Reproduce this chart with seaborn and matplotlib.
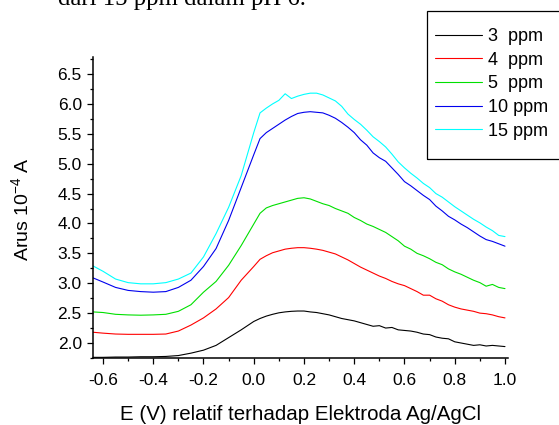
import matplotlib
matplotlib.use("Agg")
import matplotlib.pyplot as plt
from matplotlib.patches import Rectangle
from matplotlib.ticker import MultipleLocator, FormatStrFormatter
import numpy as np
import pandas as pd
import seaborn as sns

# ---------------- data ----------------
potential = [-0.64, -0.6, -0.55, -0.5, -0.45, -0.4, -0.35, -0.3, -0.25, -0.2, -0.15, -0.1, -0.05,
             0.0, 0.025, 0.05, 0.075, 0.1, 0.125, 0.15, 0.175, 0.2, 0.225, 0.25, 0.275, 0.3,
             0.325, 0.35, 0.375, 0.4, 0.425, 0.45, 0.475, 0.5, 0.525, 0.55, 0.575, 0.6, 0.625,
             0.65, 0.675, 0.7, 0.725, 0.75, 0.775, 0.8, 0.825, 0.85, 0.875, 0.9, 0.925, 0.95,
             0.975, 1.0]

arus_3ppm = [1.76, 1.76, 1.765, 1.765, 1.77, 1.77, 1.775, 1.79, 1.83, 1.88, 1.96, 2.09, 2.22,
             2.36, 2.41, 2.45, 2.48, 2.505, 2.52, 2.53, 2.535, 2.535, 2.52, 2.51, 2.49, 2.47,
             2.44, 2.41, 2.39, 2.37, 2.34, 2.31, 2.28, 2.29, 2.25, 2.26, 2.22, 2.21, 2.20,
             2.18, 2.15, 2.14, 2.10, 2.08, 2.07, 2.02, 2.00, 1.98, 1.96, 1.97, 1.95, 1.96,
             1.95, 1.94]

arus_4ppm = [2.18, 2.165, 2.15, 2.145, 2.145, 2.145, 2.15, 2.20, 2.30, 2.42, 2.57, 2.76, 3.05,
             3.28, 3.40, 3.46, 3.51, 3.54, 3.57, 3.585, 3.595, 3.595, 3.585, 3.57, 3.55, 3.52,
             3.49, 3.44, 3.39, 3.33, 3.27, 3.22, 3.17, 3.12, 3.08, 3.03, 2.99, 2.96, 2.91,
             2.86, 2.80, 2.80, 2.74, 2.70, 2.64, 2.60, 2.57, 2.55, 2.53, 2.50, 2.49, 2.47,
             2.44, 2.42]

arus_5ppm = [2.52, 2.51, 2.48, 2.47, 2.465, 2.47, 2.48, 2.53, 2.64, 2.85, 3.03, 3.30, 3.63,
             3.99, 4.17, 4.26, 4.30, 4.33, 4.36, 4.39, 4.42, 4.43, 4.41, 4.37, 4.33, 4.30,
             4.25, 4.21, 4.17, 4.10, 4.05, 3.99, 3.95, 3.90, 3.85, 3.78, 3.71, 3.62, 3.57,
             3.50, 3.46, 3.41, 3.35, 3.31, 3.24, 3.19, 3.15, 3.10, 3.05, 3.01, 2.95, 2.98,
             2.93, 2.91]

arus_10ppm = [3.09, 3.02, 2.93, 2.88, 2.86, 2.85, 2.86, 2.93, 3.05, 3.28, 3.58, 4.05, 4.60,
              5.15, 5.42, 5.52, 5.59, 5.66, 5.73, 5.79, 5.84, 5.86, 5.87, 5.86, 5.85, 5.81,
              5.76, 5.69, 5.61, 5.52, 5.40, 5.31, 5.18, 5.10, 5.04, 4.93, 4.82, 4.70, 4.63,
              4.55, 4.47, 4.40, 4.29, 4.21, 4.12, 4.06, 3.99, 3.93, 3.86, 3.79, 3.73, 3.70,
              3.66, 3.62]

arus_15ppm = [3.29, 3.20, 3.07, 3.01, 2.99, 2.99, 3.01, 3.07, 3.17, 3.44, 3.83, 4.27, 4.80,
              5.52, 5.85, 5.93, 6.00, 6.06, 6.17, 6.09, 6.13, 6.16, 6.18, 6.18, 6.15, 6.10,
              6.05, 5.96, 5.83, 5.74, 5.66, 5.56, 5.45, 5.37, 5.28, 5.16, 5.03, 4.93, 4.84,
              4.76, 4.67, 4.60, 4.50, 4.44, 4.36, 4.28, 4.21, 4.14, 4.07, 4.01, 3.94, 3.88,
              3.80, 3.78]

series_labels = ["3  ppm", "4  ppm", "5  ppm", "10 ppm", "15 ppm"]
series_colors = ["#000000", "#ff0000", "#00e000", "#0000ee", "#00ffff"]

x_ticks = [-0.6, -0.4, -0.2, 0.0, 0.2, 0.4, 0.6, 0.8, 1.0]
y_ticks = [2.0, 2.5, 3.0, 3.5, 4.0, 4.5, 5.0, 5.5, 6.0, 6.5]

# ---------------- build table ----------------
all_series = [arus_3ppm, arus_4ppm, arus_5ppm, arus_10ppm, arus_15ppm]
df = pd.concat(
    [pd.DataFrame({"E": potential, "I": vals, "Konsentrasi": lab})
     for vals, lab in zip(all_series, series_labels)],
    ignore_index=True)

# ---------------- style ----------------
sns.set_style("ticks")
plt.rcParams["font.family"] = ["Liberation Sans", "DejaVu Sans"]
plt.rcParams["mathtext.default"] = "regular"
plt.rcParams["axes.unicode_minus"] = False

W, H = 559, 425
AX_L, AX_R, AX_T, AX_B = 92.95, 507.5, 57.3, 358.0
fig = plt.figure(figsize=(W / 100, H / 100), dpi=100)
ax = fig.add_axes([AX_L / W, 1 - AX_B / H, (AX_R - AX_L) / W, (AX_B - AX_T) / H])

sns.lineplot(data=df, x="E", y="I", hue="Konsentrasi", hue_order=series_labels,
             palette=series_colors, linewidth=0.8, ax=ax, legend=False, sort=False)

ax.set_xlim(-0.64, 1.01)
ax.set_ylim(1.749, 6.78)
ax.set_xticks(x_ticks)
ax.set_yticks(y_ticks)
ax.xaxis.set_minor_locator(MultipleLocator(0.1))
ax.yaxis.set_minor_locator(MultipleLocator(0.25))
ax.xaxis.set_major_formatter(FormatStrFormatter("%.1f"))
ax.yaxis.set_major_formatter(FormatStrFormatter("%.1f"))

for s in ["top", "right"]:
    ax.spines[s].set_visible(False)
for s in ["left", "bottom"]:
    ax.spines[s].set_linewidth(1.1)
    ax.spines[s].set_color("black")

ax.tick_params(axis="both", which="major", direction="out", length=4, width=0.9,
               color="black", labelsize=12.5, labelcolor="black")
ax.tick_params(axis="both", which="minor", direction="out", length=2.5, width=0.9, color="black")
ax.tick_params(axis="x", which="major", pad=7)
ax.tick_params(axis="y", which="major", pad=4)

ax.set_xlabel("E (V) relatif terhadap Elektroda Ag/AgCl", fontsize=14.8, color="black")
ax.set_ylabel("Arus 10$^{-4}$ A", fontsize=14, color="black")
ax.xaxis.set_label_coords(((118 + 483) / 2 - AX_L) / (AX_R - AX_L), (AX_B - 414) / (AX_B - AX_T))
ax.xaxis.label.set_va("center")
ax.yaxis.set_label_coords((21 - AX_L) / (AX_R - AX_L), (AX_B - 209) / (AX_B - AX_T))
ax.yaxis.label.set_va("center")
ax.patch.set_alpha(0)

# legend frame (extends past right figure edge like the reference)
fig.add_artist(Rectangle((427 / W, 1 - 159 / H), (600 - 427) / W, (159 - 11) / H,
                         transform=fig.transFigure, fill=False, edgecolor="black",
                         linewidth=0.9, clip_on=False))
handles = ax.get_lines()[:5]
leg = fig.legend(handles, series_labels, loc="upper left",
                 bbox_to_anchor=(435 / W, 1 - 28 / H), bbox_transform=fig.transFigure,
                 frameon=False, fontsize=13, handlelength=2.6, handletextpad=0.35,
                 borderpad=0.0, borderaxespad=0.0, labelspacing=0.37)
for t in leg.get_texts():
    t.set_color("black")

# partially cut text at top of page
fig.text(58 / W, 1 - 5 / H, "dari 15 ppm dalam pH 6.", fontsize=17.8,
         family=["Liberation Serif", "DejaVu Serif"], va="baseline", ha="left", color="black")

fig.savefig("out.png", dpi=100)
